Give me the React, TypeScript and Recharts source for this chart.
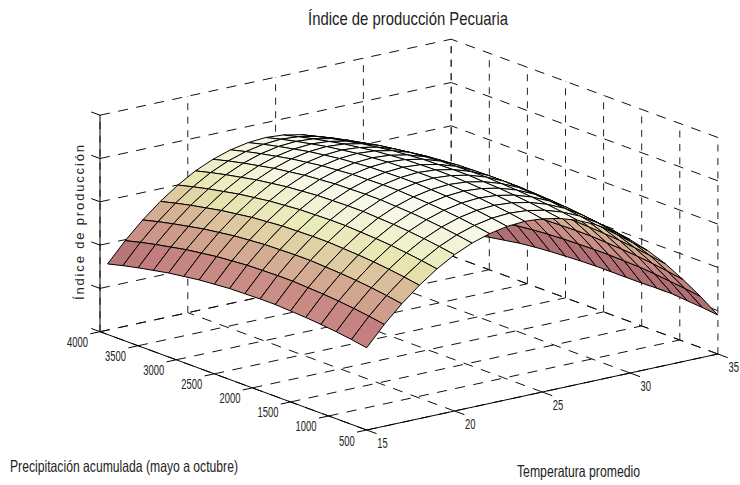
import { Scatter, ScatterChart, XAxis, YAxis } from "recharts";

const temps = [15, 16, 17, 18, 19, 20, 21, 22, 23, 24, 25, 26, 27, 28, 29, 30, 31, 32, 33, 34, 35];
const precips = [500, 700, 900, 1100, 1300, 1500, 1700, 1900, 2100, 2300, 2500, 2700, 2900, 3100, 3300, 3500, 3700, 3900];

const tempTicks = [15, 20, 25, 30, 35];
const precipTicks = [500, 1000, 1500, 2000, 2500, 3000, 3500, 4000];
const indexTicks = [0, 1, 2, 3, 4, 5];

// one row per temperature, one value per precipitation
const row15 = [1.9, 1.96, 2.01, 2.05, 2.08, 2.1, 2.12, 2.12, 2.11, 2.1, 2.07, 2.04, 1.99, 1.94, 1.87, 1.8, 1.72, 1.63];
const row16 = [2.35, 2.41, 2.46, 2.5, 2.53, 2.55, 2.57, 2.57, 2.56, 2.55, 2.52, 2.49, 2.44, 2.39, 2.32, 2.25, 2.17, 2.08];
const row17 = [2.74, 2.8, 2.85, 2.89, 2.92, 2.94, 2.96, 2.96, 2.95, 2.94, 2.91, 2.88, 2.83, 2.78, 2.71, 2.64, 2.56, 2.47];
const row18 = [3.08, 3.14, 3.19, 3.23, 3.26, 3.28, 3.3, 3.3, 3.29, 3.28, 3.25, 3.22, 3.17, 3.12, 3.05, 2.98, 2.9, 2.81];
const row19 = [3.37, 3.43, 3.48, 3.52, 3.55, 3.57, 3.59, 3.59, 3.58, 3.57, 3.54, 3.51, 3.46, 3.41, 3.34, 3.27, 3.19, 3.1];
const row20 = [3.61, 3.67, 3.72, 3.76, 3.79, 3.81, 3.83, 3.83, 3.82, 3.81, 3.78, 3.75, 3.7, 3.65, 3.58, 3.51, 3.43, 3.34];
const row21 = [3.79, 3.85, 3.9, 3.94, 3.97, 3.99, 4.01, 4.01, 4.0, 3.99, 3.96, 3.93, 3.88, 3.83, 3.76, 3.69, 3.61, 3.52];
const row22 = [3.92, 3.98, 4.03, 4.07, 4.1, 4.12, 4.14, 4.14, 4.13, 4.12, 4.09, 4.06, 4.01, 3.96, 3.89, 3.82, 3.74, 3.65];
const row23 = [4.0, 4.06, 4.11, 4.15, 4.18, 4.2, 4.22, 4.22, 4.21, 4.2, 4.17, 4.14, 4.09, 4.04, 3.97, 3.9, 3.82, 3.73];
const row24 = [4.03, 4.09, 4.14, 4.18, 4.21, 4.23, 4.25, 4.25, 4.24, 4.23, 4.2, 4.17, 4.12, 4.07, 4.0, 3.93, 3.85, 3.76];
const row25 = [4.0, 4.06, 4.11, 4.15, 4.18, 4.2, 4.22, 4.22, 4.21, 4.2, 4.17, 4.14, 4.09, 4.04, 3.97, 3.9, 3.82, 3.73];
const row26 = [3.92, 3.98, 4.03, 4.07, 4.1, 4.12, 4.14, 4.14, 4.13, 4.12, 4.09, 4.06, 4.01, 3.96, 3.89, 3.82, 3.74, 3.65];
const row27 = [3.79, 3.85, 3.9, 3.94, 3.97, 3.99, 4.01, 4.01, 4.0, 3.99, 3.96, 3.93, 3.88, 3.83, 3.76, 3.69, 3.61, 3.52];
const row28 = [3.61, 3.67, 3.72, 3.76, 3.79, 3.81, 3.83, 3.83, 3.82, 3.81, 3.78, 3.75, 3.7, 3.65, 3.58, 3.51, 3.43, 3.34];
const row29 = [3.37, 3.43, 3.48, 3.52, 3.55, 3.57, 3.59, 3.59, 3.58, 3.57, 3.54, 3.51, 3.46, 3.41, 3.34, 3.27, 3.19, 3.1];
const row30 = [3.08, 3.14, 3.19, 3.23, 3.26, 3.28, 3.3, 3.3, 3.29, 3.28, 3.25, 3.22, 3.17, 3.12, 3.05, 2.98, 2.9, 2.81];
const row31 = [2.74, 2.8, 2.85, 2.89, 2.92, 2.94, 2.96, 2.96, 2.95, 2.94, 2.91, 2.88, 2.83, 2.78, 2.71, 2.64, 2.56, 2.47];
const row32 = [2.35, 2.41, 2.46, 2.5, 2.53, 2.55, 2.57, 2.57, 2.56, 2.55, 2.52, 2.49, 2.44, 2.39, 2.32, 2.25, 2.17, 2.08];
const row33 = [1.9, 1.96, 2.01, 2.05, 2.08, 2.1, 2.12, 2.12, 2.11, 2.1, 2.07, 2.04, 1.99, 1.94, 1.87, 1.8, 1.72, 1.63];
const row34 = [1.42, 1.47, 1.51, 1.55, 1.58, 1.59, 1.6, 1.6, 1.59, 1.58, 1.56, 1.53, 1.49, 1.44, 1.37, 1.3, 1.22, 1.13];
const row35 = [0.9, 0.94, 0.97, 1.0, 1.0, 0.99, 0.99, 0.99, 0.99, 0.98, 0.96, 0.94, 0.91, 0.87, 0.81, 0.75, 0.67, 0.58];

const indexRows = [row15, row16, row17, row18, row19, row20, row21, row22, row23, row24, row25, row26, row27, row28, row29, row30, row31, row32, row33, row34, row35];

const colorStops: [number, number[]][] = [
  [0.5, [160, 100, 100]],
  [1.0, [170, 110, 110]],
  [1.6, [178, 112, 116]],
  [1.9, [196, 128, 128]],
  [2.4, [208, 160, 140]],
  [2.8, [218, 190, 155]],
  [3.1, [230, 226, 172]],
  [3.4, [238, 238, 196]],
  [3.7, [245, 245, 224]],
  [4.0, [251, 251, 242]],
  [4.25, [254, 254, 250]],
];

const WIDTH = 740;
const HEIGHT = 485;

// flat view plane of the 3D box, one unit is one pixel
const project = (t: number, p: number, z: number) => ({
  x: 100 + (t - 15) * 17.56 + (4000 - p) * 0.0762,
  y: 331.7 - (t - 15) * 3.8 + (4000 - p) * 0.02809 - z * 43.3,
});

const colorFor = (z: number) => {
  let i = 0;
  while (i < colorStops.length - 2 && z > colorStops[i + 1][0]) i++;
  const [z0, c0] = colorStops[i];
  const [z1, c1] = colorStops[i + 1];
  const k = Math.max(0, Math.min(1, (z - z0) / (z1 - z0)));
  const c = c0.map((v, n) => Math.round(v + (c1[n] - v) * k));
  return `rgb(${c[0]},${c[1]},${c[2]})`;
};

// cells go from the far corner to the near one so the near ones cover the far ones
const cells: any[] = [];
for (let i = temps.length - 2; i >= 0; i--) {
  for (let j = precips.length - 2; j >= 0; j--) {
    const corners = [
      project(temps[i], precips[j], indexRows[i][j]),
      project(temps[i + 1], precips[j], indexRows[i + 1][j]),
      project(temps[i + 1], precips[j + 1], indexRows[i + 1][j + 1]),
      project(temps[i], precips[j + 1], indexRows[i][j + 1]),
    ];
    cells.push({ x: corners[0].x, y: corners[0].y, corners, fill: colorFor(indexRows[i][j]) });
  }
}

const CellShape = (props: any) => {
  const { cx, cy, payload } = props;
  const pts = payload.corners
    .map((c: any) => `${cx + c.x - payload.x},${cy + c.y - payload.y}`)
    .join(" ");
  return <polygon points={pts} fill={payload.fill} stroke="#000" strokeWidth={1} strokeLinejoin="round" />;
};

const NoDot = () => <g />;

const tMin = tempTicks[0];
const tMax = tempTicks[tempTicks.length - 1];
const pMin = precipTicks[0];
const pMax = precipTicks[precipTicks.length - 1];
const zTop = indexTicks[indexTicks.length - 1];

const dashedFlat: any[][] = [
  ...tempTicks.map((t) => [project(t, pMin, 0), project(t, pMax, 0)]),
  ...precipTicks.map((p) => [project(tMin, p, 0), project(tMax, p, 0)]),
  ...indexTicks.map((z) => [project(tMin, pMax, z), project(tMax, pMax, z)]),
  ...indexTicks.map((z) => [project(tMax, pMin, z), project(tMax, pMax, z)]),
];

const dashedUp: any[][] = [
  ...tempTicks.map((t) => [project(t, pMax, 0), project(t, pMax, zTop)]),
  ...precipTicks.map((p) => [project(tMax, p, 0), project(tMax, p, zTop)]),
];

const solid: any[][] = [
  [project(tMin, pMax, 0), project(tMin, pMax, zTop)],
  [project(tMin, pMax, 0), project(tMin, pMin, 0)],
  [project(tMin, pMin, 0), project(tMax, pMin, 0)],
  ...tempTicks.map((t) => [project(t, pMin, 0), project(t, pMin - 130, 0)]),
  ...precipTicks.map((p) => [project(tMin, p, 0), project(tMin - 0.55, p, 0)]),
  ...indexTicks.map((z) => [project(tMin, pMax, z), project(tMin, pMax + 115, z)]),
];

const precipLabels = precipTicks.map((p) => ({ ...project(tMin, p, 0), label: String(p) }));
const tempLabels = tempTicks.map((t) => ({ ...project(t, pMin, 0), label: String(t) }));

const font = "'Liberation Sans', Arial, sans-serif";

const TickText = (props: any) => {
  const { cx, cy, payload, dx, dy, anchor } = props;
  const len = payload.label.length * 5.25;
  return (
    <text
      x={cx + dx}
      y={cy + dy}
      textAnchor={anchor}
      fontFamily={font}
      fontSize={15}
      fill="#222"
      textLength={len}
      lengthAdjust="spacingAndGlyphs"
    >
      {payload.label}
    </text>
  );
};

export default function App() {
  return (
    <div style={{ position: "absolute", left: 0, top: 0, width: WIDTH, height: HEIGHT, background: "#fff" }}>
      <ScatterChart width={WIDTH} height={HEIGHT} margin={{ top: 0, right: 0, bottom: 0, left: 0 }}>
        <XAxis type="number" dataKey="x" domain={[0, WIDTH]} hide />
        <YAxis type="number" dataKey="y" domain={[0, HEIGHT]} reversed hide />
        {dashedFlat.map((seg, i) => (
          <Scatter
            key={`f${i}`}
            data={seg}
            shape={NoDot}
            line={{ stroke: "#111", strokeWidth: 1, strokeDasharray: "10 8.5" }}
            isAnimationActive={false}
          />
        ))}
        {dashedUp.map((seg, i) => (
          <Scatter
            key={`u${i}`}
            data={seg}
            shape={NoDot}
            line={{ stroke: "#222", strokeWidth: 1, strokeDasharray: "7 6.5" }}
            isAnimationActive={false}
          />
        ))}
        {solid.map((seg, i) => (
          <Scatter
            key={`s${i}`}
            data={seg}
            shape={NoDot}
            line={{ stroke: "#000", strokeWidth: 1 }}
            isAnimationActive={false}
          />
        ))}
        <Scatter data={cells} shape={CellShape} isAnimationActive={false} />
        <Scatter
          data={precipLabels}
          shape={(p: any) => <TickText {...p} dx={-12} dy={15.5} anchor="end" />}
          isAnimationActive={false}
        />
        <Scatter
          data={tempLabels}
          shape={(p: any) => <TickText {...p} dx={10.5} dy={17.5} anchor="start" />}
          isAnimationActive={false}
        />
        <text x={308} y={25} fontFamily={font} fontSize={19} fill="#222" textLength={200} lengthAdjust="spacingAndGlyphs">
          Índice de producción Pecuaria
        </text>
        <text x={10} y={471.5} fontFamily={font} fontSize={16.5} fill="#222" textLength={228} lengthAdjust="spacingAndGlyphs">
          Precipitación acumulada (mayo a octubre)
        </text>
        <text x={517} y={477} fontFamily={font} fontSize={16.5} fill="#222" textLength={123} lengthAdjust="spacingAndGlyphs">
          Temperatura promedio
        </text>
        <text
          transform="translate(84,300) rotate(-90)"
          fontFamily={font}
          fontSize={13}
          fill="#222"
          textLength={155}
          lengthAdjust="spacing"
        >
          Índice de producción
        </text>
      </ScatterChart>
    </div>
  );
}
